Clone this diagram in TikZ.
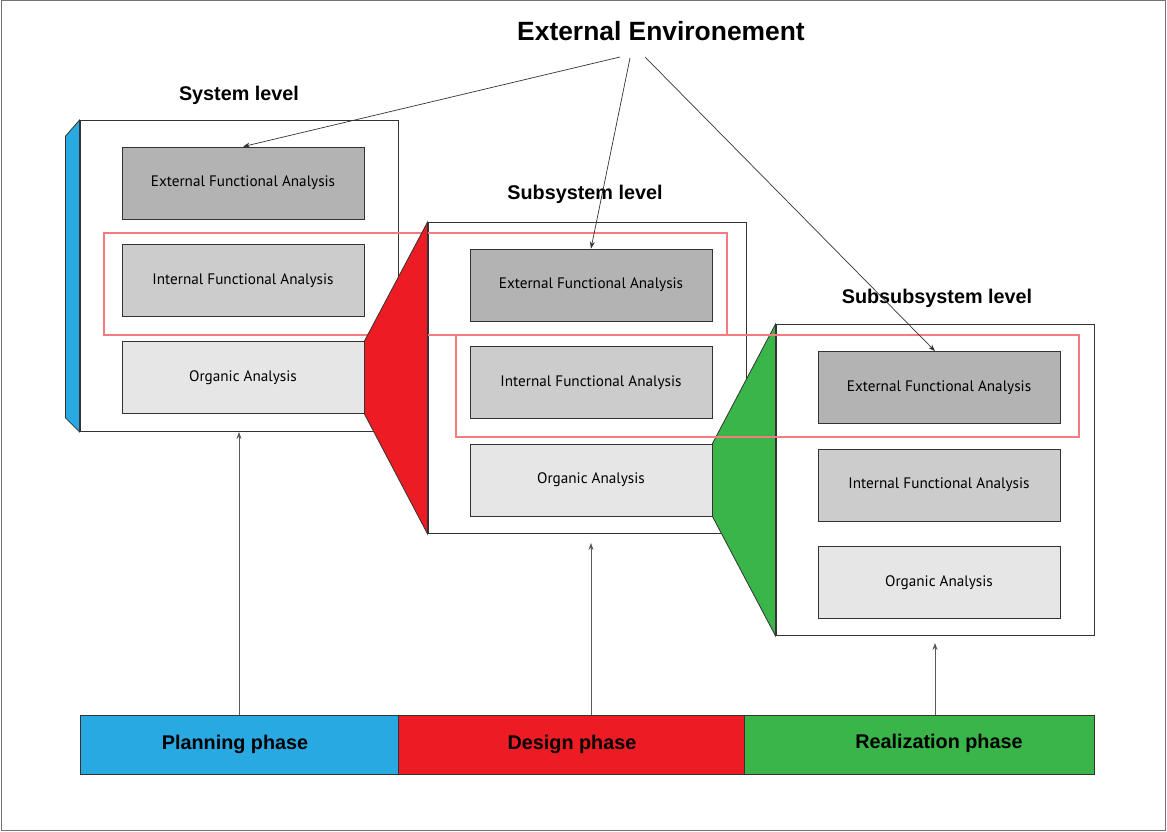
\documentclass[tikz,border=0pt]{standalone}
\usepackage{fontspec}
\setmainfont{Liberation Sans}
\newfontfamily\boxfont{PT Sans}
\usetikzlibrary{arrows.meta,calc}
\definecolor{planblue}{HTML}{29A9E1}
\definecolor{designred}{HTML}{ED1C24}
\definecolor{realgreen}{HTML}{39B54A}
\definecolor{darkline}{HTML}{333333}
\definecolor{efagray}{HTML}{B3B3B3}
\definecolor{ifagray}{HTML}{CCCCCC}
\definecolor{oagray}{HTML}{E6E6E6}
\definecolor{linkpink}{HTML}{F47C80}

\begin{document}
\begin{tikzpicture}[
		x=1pt,y=-1pt,
		levelbox/.style={draw=darkline,fill=white,line width=0.9pt,minimum width=318pt,
			minimum height=311pt,inner sep=0pt},
		analysis/.style={draw=darkline,line width=0.8pt,minimum width=242pt,minimum height=72pt,
			inner sep=0pt,font=\boxfont\fontsize{15.2}{18}\selectfont},
		efa/.style={analysis,fill=efagray},
		ifa/.style={analysis,fill=ifagray},
		oa/.style={analysis,fill=oagray},
		levellabel/.style={font=\bfseries\fontsize{19.8}{23}\selectfont},
		phase/.style={draw=darkline,line width=0.8pt,minimum height=59pt,inner sep=0pt,
			font=\bfseries\fontsize{19.8}{23}\selectfont},
		phasetext/.style={font=\bfseries\fontsize{19.8}{23}\selectfont},
		pointer/.style={-{Stealth[length=7pt,width=5pt]},darkline,line width=0.7pt},
		riser/.style={-{Stealth[length=7pt,width=5pt]},black!65,line width=0.8pt},
		linkbox/.style={draw=linkpink,line width=1.1pt}
		]
		\useasboundingbox (0,0) rectangle (1167,832);
		\draw[black!55,line width=1pt] (1,1) rectangle (1165,830);

		\node[font=\bfseries\fontsize{26.4}{30}\selectfont] (env) at (661,31) {External Environement};
		\node[levellabel] (syslab)    at (239,95)  {System level};
		\node[levellabel] (sublab)    at (585,194) {Subsystem level};
		\node[levellabel] (subsublab) at (937,298) {Subsubsystem level};

		% level frames
		\node[levelbox] (sys)    at (239,276) {};
		\node[levelbox] (sub)    at (587,378) {};
		\node[levelbox] (subsub) at (935,480) {};

		\node[efa] (sysEFA) at (243,183)   {External Functional Analysis};
		\node[ifa] (sysIFA) at (243,280.5) {Internal Functional Analysis};
		\node[oa]  (sysOA)  at (243,377.5) {Organic Analysis};

		\node[efa] (subEFA) at (591,285)   {External Functional Analysis};
		\node[ifa] (subIFA) at (591,382.5) {Internal Functional Analysis};
		\node[oa]  (subOA)  at (591,480)   {Organic Analysis};

		\node[efa] (subsubEFA) at (939,387.5) {External Functional Analysis};
		\node[ifa] (subsubIFA) at (939,485)   {Internal Functional Analysis};
		\node[oa]  (subsubOA)  at (939,582.5) {Organic Analysis};

		% links between levels
		\draw[linkbox] (104,233) rectangle (727,335);
		\filldraw[fill=planblue,draw=darkline,line width=0.8pt] (sys.north west) -- ++(-14,16)
			-- ($(sys.south west)+(-14,-14)$) -- (sys.south west) -- cycle;
		\filldraw[fill=designred,draw=darkline,line width=0.8pt] (sub.north west) -- (sysOA.north east)
			-- (sysOA.south east) -- (sub.south west) -- cycle;
		\filldraw[fill=realgreen,draw=darkline,line width=0.8pt] (subsub.north west) -- (subOA.north east)
			-- (subOA.south east) -- (subsub.south west) -- cycle;
		\draw[linkbox] (456,335) rectangle (1079,437);

		% phases
		\node[phase,fill=planblue,minimum width=318pt]   (plan)    at (239,744.5) {};
		\node[phase,fill=designred,minimum width=346pt]  (design)  at (571,744.5) {};
		\node[phase,fill=realgreen,minimum width=350pt]  (realize) at (919,744.5) {};
		\node[phasetext] (plantext)    at (235,744.5) {Planning phase};
		\node[phasetext] (designtext)  at (572,744.5) {Design phase};
		\node[phasetext] (realizetext) at (939,743.5) {Realization phase};

		\coordinate (envA) at (620,57);
		\coordinate (envB) at (630,58);
		\coordinate (envC) at (645,57);
		\draw[pointer] (envA) -- (sysEFA.north);
		\draw[pointer] (envB) -- (subEFA.north);
		\draw[pointer] (envC) -- ($(subsubEFA.north)+(-4,0)$);

		\draw[riser] (plan.north) -- (sys.south);
		\draw[riser] (design.north -| subOA.south) -- ($(sub.south -| subOA.south)+(0,9)$);
		\draw[riser] (realize.north -| subsub.south) -- ($(subsub.south)+(0,7)$);
	\end{tikzpicture}
\end{document}
